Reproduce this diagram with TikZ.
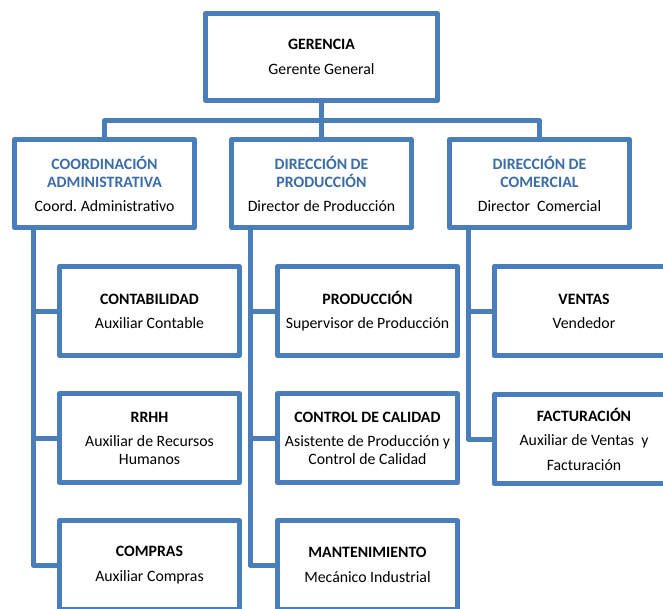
\documentclass[tikz,border=0pt]{standalone}
\usepackage{fontspec}
\setmainfont{Carlito}
\frenchspacing
\definecolor{bl}{HTML}{4A7EBB}
\definecolor{hd}{HTML}{3A6CA8}
\newcommand{\hdr}[1]{\textcolor{hd}{\textbf{#1}}}
\tikzset{
  box/.style={draw=bl, line width=5pt, fill=white, rectangle, inner sep=0pt, outer sep=0pt,
    align=center, font=\fontsize{15.8}{18}\selectfont, line join=round},
  topbox/.style={box, minimum width=232pt, minimum height=87pt},
  midbox/.style={box, minimum width=180pt, minimum height=88pt},
  childbox/.style={box, minimum width=180pt, minimum height=89pt},
  link/.style={draw=bl, line width=5pt, line join=round},
}
\begin{document}
\begin{tikzpicture}[x=1pt,y=-1pt]
\useasboundingbox (0,0) rectangle (663,608);
\fill[white] (0,0) rectangle (663,608);
\clip (0,0) rectangle (663,608);

\coordinate (bus) at (321.5,120.5);
\coordinate (ma) at (104.5,183.5);
\coordinate (mb) at (321.5,183.5);
\coordinate (mc) at (539.5,183.5);

\node[topbox] (g) at (321.5,57) {\textbf{GERENCIA}\\[7pt]Gerente General};

\node[midbox] (adm) at (ma) {\hdr{COORDINACIÓN}\\\hdr{ADMINISTRATIVA}\\[6pt]Coord. Administrativo};
\node[midbox] (pro) at (mb) {\hdr{DIRECCIÓN DE}\\\hdr{PRODUCCIÓN}\\[6pt]Director de Producción};
\node[midbox] (com) at (mc) {\hdr{DIRECCIÓN DE}\\\hdr{COMERCIAL}\\[6pt]Director~ Comercial};

\node[childbox] (cont) at (149.5,311) {\textbf{CONTABILIDAD}\\[6pt]Auxiliar Contable};
\node[childbox] (rrhh) at (149.5,438) {\textbf{RRHH}\\[6pt]Auxiliar de Recursos\\Humanos};
\node[childbox] (compr) at (149.5,565) {\textbf{COMPRAS}\\[7pt]Auxiliar Compras};

\node[childbox] (prod) at (367.5,311) {\textbf{PRODUCCIÓN}\\[6pt]Supervisor de Producción};
\node[childbox] (cal) at (367.5,438) {\textbf{CONTROL DE CALIDAD}\\[6pt]Asistente de Producción y\\Control de Calidad};
\node[childbox] (mant) at (367.5,565) {\textbf{MANTENIMIENTO}\\[7pt]Mecánico Industrial};

\node[childbox] (vent) at (584,311) {\textbf{VENTAS}\\[6pt]Vendedor};
\node[childbox] (fact) at (584,439) {\textbf{FACTURACIÓN}\\[6pt]Auxiliar de Ventas~ y\\[7pt]Facturación};

\draw[link] (g.south) -- (bus);
\draw[link] (adm.north) |- (bus) -| (com.north);
\draw[link] (pro.north) -- (bus);

\draw[link] ([xshift=-71.5pt]adm.south) |- (cont.west);
\draw[link] ([xshift=-71.5pt]adm.south) |- (rrhh.west);
\draw[link] ([xshift=-71.5pt]adm.south) |- (compr.west);

\draw[link] ([xshift=-71.5pt]pro.south) |- (prod.west);
\draw[link] ([xshift=-71.5pt]pro.south) |- (cal.west);
\draw[link] ([xshift=-71.5pt]pro.south) |- (mant.west);

\draw[link] ([xshift=-71.5pt]com.south) |- (vent.west);
\draw[link] ([xshift=-71.5pt]com.south) |- (fact.west);
\end{tikzpicture}
\end{document}
